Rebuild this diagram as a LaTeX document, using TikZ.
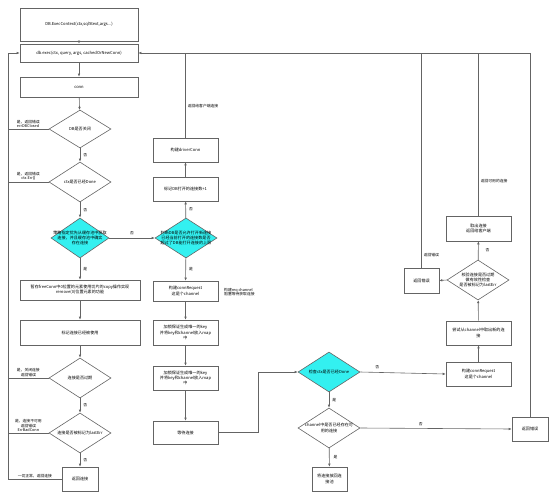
\documentclass[tikz,border=0pt]{standalone}
\usepackage{fontspec}
\setmainfont{Noto Sans CJK SC}
\usetikzlibrary{shapes.geometric,arrows.meta}

\definecolor{linegray}{RGB}{100,100,100}
\definecolor{decfill}{RGB}{51,240,240}

\tikzset{
    box/.style={draw=linegray, line width=0.6pt, fill=white, align=center, inner sep=1pt},
    dec/.style={diamond, draw=linegray, line width=0.6pt, inner sep=0pt, minimum width=62pt, minimum height=40pt},
    hot/.style={dec, fill=decfill},
    dtext/.style={align=center, inner sep=0pt},
    lbl/.style={inner sep=1pt, font=\fontsize{3.8}{4.6}\selectfont},
    line/.style={draw=linegray, line width=0.6pt},
    arr/.style={line, -{Latex[length=3pt,width=2.6pt]}}
}

\begin{document}
\begin{tikzpicture}[x=1pt, y=-1pt, font=\fontsize{4.1}{5.2}\selectfont]
    \useasboundingbox (0,0) rectangle (556,500);

    % Left column
    \node[box, minimum width=118pt, minimum height=33pt] (a) at (79,24.5) {DB.ExecContext(ctx,sqlStext,args...)};
    \node[box, minimum width=118pt, minimum height=18pt] (b) at (79,53) {db.exec(ctx, query, args, cachedOrNewConn)};
    \node[box, minimum width=118pt, minimum height=20pt] (c) at (79,87) {conn};

    \node[dec, minimum height=38pt] (d1) at (80,129) {};
    \node[dtext] (d1t) at (d1) {DB是否关闭};
    \node[dec] (d2) at (80,182) {};
    \node[dtext] (d2t) at (d2) {ctx是否已经Done};
    \node[hot, minimum width=58pt] (d3) at (80,238) {};
    \node[dtext] (d3t) at (d3) {策略指定优先从缓存池中获取\\连接，并且缓存池中确实\\存在连接};

    \node[box, minimum width=120pt, minimum height=20pt] (e) at (80,290) {暂存freeConn中0位置的元素使用切片的copy操作实现\\remove(0)位置元素的功能};
    \node[box, minimum width=120pt, minimum height=25pt] (f) at (80,332.5) {标记连接已经被使用};

    \node[dec] (d5) at (80,378) {};
    \node[dtext] (d5t) at (d5) {连接是否过期};
    \node[dec] (d6) at (80,433) {};
    \node[dtext] (d6t) at (d6) {连接是否被标记为lastErr};
    \node[box, minimum width=36pt, minimum height=24pt] (g) at (80,479) {返回连接};

    % Middle column
    \node[hot] (d4) at (186,238) {};
    \node[dtext] (d4t) at (d4) {判断DB是否允许打开新连接\\已经当前打开的连接数是否\\超过了DB能打开连接的上限};
    \node[box, minimum width=65pt, minimum height=24pt] (mark) at (185.5,189) {标记DB打开的连接数+1};
    \node[box, minimum width=65pt, minimum height=24pt] (drv) at (185.5,150) {构建driverConn};
    \node[box, minimum width=65pt, minimum height=20pt] (h) at (185.5,291) {构建connRequest\\这是个channel};
    \node[box, minimum width=65pt, minimum height=25pt] (i1) at (185.5,332.5) {加锁保证生成唯一的key\\并将key和channel放入map\\中};
    \node[box, minimum width=65pt, minimum height=24pt] (i2) at (185.5,378) {加锁保证生成唯一的key\\并将key和channel放入map\\中};
    \node[box, minimum width=65pt, minimum height=23pt] (j) at (185.5,432.5) {等待连接};

    % Right part
    \node[hot] (d7) at (329,372) {};
    \node[dtext] (d7t) at (d7) {检查ctx是否已经Done};
    \node[dec] (d8) at (329,428) {};
    \node[dtext] (d8t) at (d8) {channel中是否已经存在可\\用的连接};
    \node[box, minimum width=35pt, minimum height=24pt] (m) at (329.5,479) {将连接放回连\\接池};
    \node[box, minimum width=36pt, minimum height=24pt] (lerr) at (530,429) {返回错误};

    \node[box, minimum width=65pt, minimum height=24pt] (k) at (478.5,374) {构建connRequest\\这是个channel};
    \node[box, minimum width=65pt, minimum height=24pt] (n) at (478.5,333) {尝试从channel中取出新的连\\接};
    \node[dec] (d9) at (478,280) {};
    \node[dtext] (d9t) at (d9) {校验连接是否过期\\做有效性检查\\是否被标记为lastErr};
    \node[box, minimum width=35pt, minimum height=25pt] (oerr) at (421.5,280.5) {返回错误};
    \node[box, minimum width=65pt, minimum height=25pt] (p) at (478.5,228.5) {取出连接\\返回给客户端};

    \coordinate (lb) at (8,53);
    \coordinate (jx) at (258,0);

    % Left column arrows
    \draw[arr] (a) -- (b);
    \draw[arr] (b) -- (c);
    \draw[arr] (c) -- (d1);
    \draw[arr] (d1) -- node[lbl, right=2pt] {否} (d2);
    \draw[arr] (d2) -- node[lbl, right=2pt] {否} (d3);
    \draw[arr] (d3) -- node[lbl, right=2pt] {是} (e);
    \draw[arr] (e) -- (f);
    \draw[arr] (f) -- (d5);
    \draw[arr] (d5) -- node[lbl, right=2pt] {否} (d6);
    \draw[arr] (d6) -- node[lbl, right=2pt] {否} (g);

    % Errors back to db.exec
    \draw[line] (d1.west) -- node[lbl, above, align=left] {是，返回错误\\errDBClosed} (d1.west -| lb);
    \draw[line] (d2.west) -- node[lbl, above, align=center] {是，返回错误\\ctx.Err()} (d2.west -| lb);
    \draw[line] (d5.west) -- node[lbl, above, align=center] {是，关闭连接\\返回错误} (d5.west -| lb);
    \draw[line] (d6.west) -- node[lbl, above, align=center] {是，连接不可用\\返回错误\\ErrBadConn} (d6.west -| lb);
    \draw[arr] (g.west) -- node[lbl, above] {一切正常，返回连接} (g.west -| lb) -- (lb) -- (b.west);

    % Middle column arrows
    \draw[arr] (d3.east) -- node[lbl, above=2pt] {否} (d4.west);
    \draw[arr] (d4) -- node[lbl, right=2pt] {否} (mark);
    \draw[arr] (mark) -- (drv);
    \draw[line] (drv.north) -- node[lbl, right=1pt, pos=0.37] {返回给客户端连接} (drv.north |- b.east);
    \draw[arr] (d4) -- node[lbl, right=2pt] {是} (h);
    \draw[arr] (h) -- (i1);
    \draw[arr] (i1) -- (i2);
    \draw[arr] (i2) -- (j);
    \draw[arr] (j.east) -- (j.east -| jx) -- (jx |- d7.west) -- (d7.west);
    \node[lbl, anchor=west, align=left] (hnote) at (223,292) {构建req channel\\阻塞等待获取连接};

    % Right part arrows
    \draw[arr] (d7.east) -- node[lbl, above=2pt, pos=0.2] {否} (k.west);
    \draw[arr] (d7) -- node[lbl, right=2pt] {是} (d8);
    \draw[arr] (d8.east) -- node[lbl, above=1pt, pos=0.4] {否} (lerr.west);
    \draw[arr] (d8) -- node[lbl, right=3pt] {是} (m);
    \draw[arr] (k) -- (n);
    \draw[arr] (n) -- (d9);
    \draw[arr] (d9.west) -- (oerr.east);
    \draw[arr] (d9) -- node[lbl, right=6pt] {否} (p);
    \draw[line] (oerr.north) -- node[lbl, right=1pt, pos=0.06] {返回错误} (oerr.north |- b.east);
    \draw[line] (p.north) -- node[lbl, right=1pt, pos=0.21] {返回可用的连接} (p.north |- b.east);
    \draw[arr] (lerr.north) |- (b.east);
\end{tikzpicture}
\end{document}
